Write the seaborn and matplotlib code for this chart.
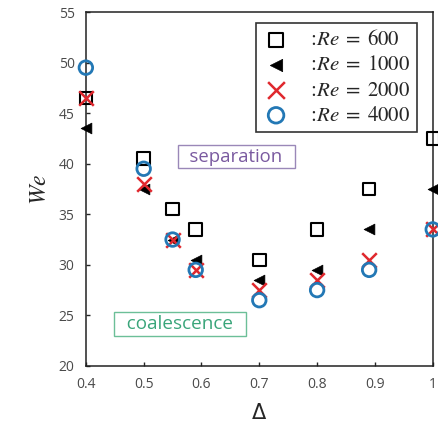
import matplotlib
matplotlib.use("Agg")
import matplotlib.pyplot as plt
import seaborn as sns

delta = [0.4, 0.5, 0.55, 0.59, 0.7, 0.8, 0.89, 1.0]
we_600 = [46.5, 40.5, 35.5, 33.5, 30.5, 33.5, 37.5, 42.5]
we_1000 = [43.5, 37.5, 32.5, 30.5, 28.5, 29.5, 33.5, 37.5]
we_2000 = [46.5, 38.0, 32.5, 29.5, 27.5, 28.5, 30.5, 33.5]
we_4000 = [49.5, 39.5, 32.5, 29.5, 26.5, 27.5, 29.5, 33.5]
x_ticks = [0.4, 0.5, 0.6, 0.7, 0.8, 0.9, 1.0]
x_ticklabels = ["0.4", "0.5", "0.6", "0.7", "0.8", "0.9", "1"]
y_ticks = [20, 25, 30, 35, 40, 45, 50, 55]

sns.set_style("ticks")
plt.rcParams["font.family"] = ["Open Sans", "DejaVu Sans"]
plt.rcParams["mathtext.fontset"] = "stix"

fig = plt.figure(figsize=(4.38, 4.30), dpi=100)
ax = fig.add_axes([0.196, 0.149, 0.792, 0.823])

sns.scatterplot(x=delta, y=we_600, ax=ax, marker="s", s=80, facecolor="none",
                edgecolor="black", linewidth=1.5, label=r"$:\!Re\;=\;600$", zorder=3, clip_on=False)
sns.scatterplot(x=delta, y=we_1000, ax=ax, marker="<", s=60, color="black",
                edgecolor="black", linewidth=0.5, label=r"$:\!Re\;=\;1000$", zorder=3, clip_on=False)
sns.scatterplot(x=delta, y=we_2000, ax=ax, marker="x", s=110, color="#e0282e",
                linewidth=1.8, label=r"$:\!Re\;=\;2000$", zorder=4, clip_on=False)
sns.scatterplot(x=delta, y=we_4000, ax=ax, marker="o", s=95, facecolor="none",
                edgecolor="#2378b5", linewidth=2, label=r"$:\!Re\;=\;4000$", zorder=4, clip_on=False)

ax.set_xlim(0.4, 1.0)
ax.set_ylim(20, 55)
ax.set_xticks(x_ticks)
ax.set_xticklabels(x_ticklabels)
ax.set_yticks(y_ticks)
ax.tick_params(direction="in", length=3, width=1, labelsize=10, labelcolor="#4a4a4a", pad=8)
for sp in ax.spines.values():
    sp.set_linewidth(1.1)
    sp.set_color("#222222")

ax.set_xlabel("Δ", fontsize=15, labelpad=8, family="DejaVu Sans")
ax.set_ylabel(r"$We$", fontsize=17, labelpad=5)

ax.text(0.66, 40.7, "  separation  ", fontsize=13.3, color="#7a5aa0", ha="center", va="center",
        bbox=dict(boxstyle="square,pad=0.15", facecolor="white", edgecolor="#9a88b8", linewidth=1))
ax.text(0.563, 24.15, "  coalescence  ", fontsize=13.6, color="#3aa57a", ha="center", va="center",
        bbox=dict(boxstyle="square,pad=0.15", facecolor="white", edgecolor="#6cbf98", linewidth=1))

leg = ax.legend(loc="upper right", bbox_to_anchor=(0.954, 0.969), borderaxespad=0,
                fontsize=15, frameon=True, fancybox=False, edgecolor="black",
                handletextpad=0.85, labelspacing=0.2, borderpad=0.3, handlelength=1.3,
                markerscale=1.15)
leg.get_frame().set_linewidth(1.2)

fig.savefig("out.png", dpi=100)
